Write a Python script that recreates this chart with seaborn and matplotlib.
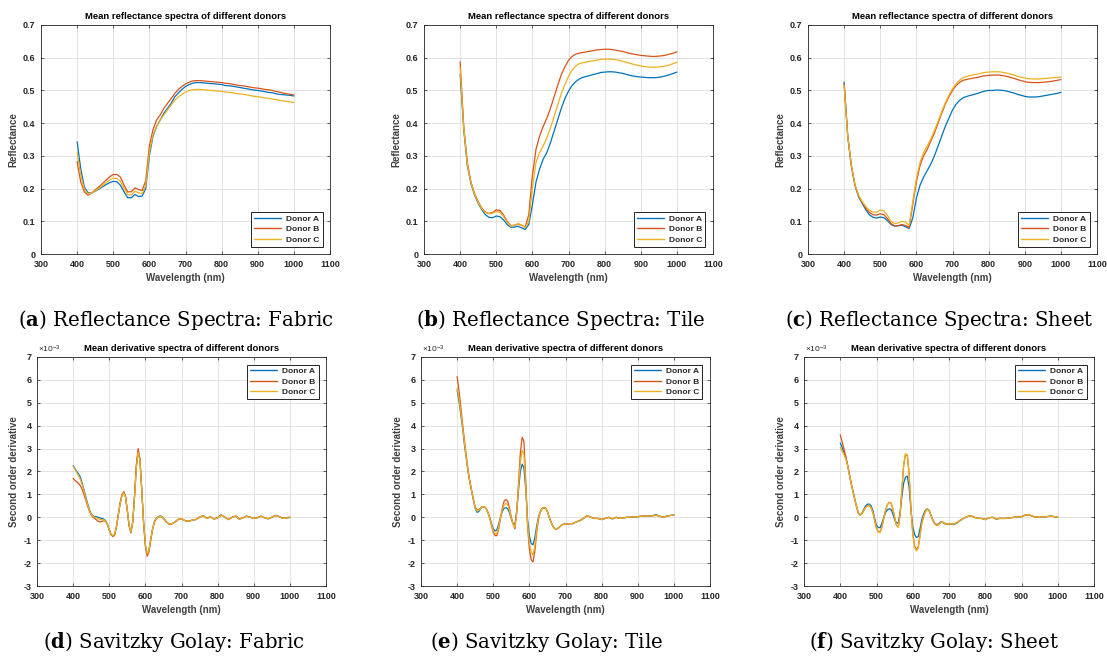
import matplotlib
matplotlib.use("Agg")
import numpy as np
import pandas as pd
import matplotlib.pyplot as plt
import seaborn as sns

sns.set_theme(style="whitegrid")
plt.rcParams['font.family'] = ['Liberation Sans', 'DejaVu Sans']
plt.rcParams['axes.unicode_minus'] = False
plt.rcParams['mathtext.fontset'] = 'custom'
plt.rcParams['mathtext.rm'] = 'DejaVu Serif'
plt.rcParams['mathtext.bf'] = 'DejaVu Serif:bold'
plt.rcParams['mathtext.sf'] = 'Liberation Sans'

# ---------------- data ----------------
WL_R = list(range(400, 1001, 10))                                # reflectance grid (nm)
WL_D = list(range(400, 701, 5)) + list(range(710, 1001, 10))     # derivative grid (nm)
DONORS = ["Donor A", "Donor B", "Donor C"]
COLORS = ["#0072BD", "#D95319", "#EDB120"]

# Reflectance: Fabric
fabric_A = [0.343, 0.260, 0.205, 0.187, 0.186, 0.192, 0.198, 0.205, 0.212, 0.218,
            0.222, 0.221, 0.210, 0.190, 0.172, 0.172, 0.182, 0.176, 0.177, 0.200,
            0.300, 0.360, 0.390, 0.410, 0.430, 0.445, 0.460, 0.480, 0.492, 0.503,
            0.512, 0.518, 0.522, 0.524, 0.524, 0.523, 0.522, 0.521, 0.520, 0.519,
            0.518, 0.515, 0.514, 0.513, 0.511, 0.509, 0.507, 0.505, 0.503, 0.501,
            0.500, 0.498, 0.496, 0.494, 0.493, 0.490, 0.488, 0.487, 0.486, 0.485,
            0.483]
fabric_B = [0.283, 0.220, 0.190, 0.180, 0.186, 0.196, 0.205, 0.215, 0.226, 0.236,
            0.243, 0.243, 0.235, 0.210, 0.190, 0.190, 0.202, 0.197, 0.194, 0.225,
            0.330, 0.380, 0.410, 0.425, 0.445, 0.460, 0.475, 0.490, 0.503, 0.512,
            0.520, 0.525, 0.529, 0.530, 0.530, 0.529, 0.528, 0.527, 0.526, 0.525,
            0.524, 0.522, 0.521, 0.519, 0.517, 0.515, 0.514, 0.512, 0.510, 0.508,
            0.507, 0.505, 0.503, 0.502, 0.500, 0.497, 0.495, 0.492, 0.490, 0.488,
            0.486]
fabric_C = [0.310, 0.240, 0.198, 0.184, 0.186, 0.193, 0.200, 0.209, 0.218, 0.226,
            0.232, 0.231, 0.222, 0.200, 0.182, 0.180, 0.192, 0.187, 0.185, 0.210,
            0.310, 0.365, 0.390, 0.410, 0.425, 0.440, 0.455, 0.470, 0.480, 0.488,
            0.495, 0.500, 0.502, 0.503, 0.503, 0.502, 0.501, 0.500, 0.499, 0.498,
            0.497, 0.495, 0.494, 0.493, 0.491, 0.489, 0.488, 0.486, 0.484, 0.482,
            0.481, 0.479, 0.477, 0.476, 0.474, 0.472, 0.470, 0.468, 0.466, 0.465,
            0.463]

# Reflectance: Tile
tile_A = [0.550, 0.380, 0.270, 0.215, 0.180, 0.155, 0.135, 0.120, 0.112, 0.111,
          0.116, 0.114, 0.105, 0.090, 0.082, 0.082, 0.085, 0.080, 0.075, 0.090,
          0.150, 0.220, 0.260, 0.290, 0.310, 0.340, 0.375, 0.410, 0.445, 0.475,
          0.498, 0.515, 0.527, 0.535, 0.540, 0.543, 0.546, 0.549, 0.552, 0.555,
          0.556, 0.557, 0.557, 0.556, 0.554, 0.552, 0.549, 0.546, 0.544, 0.542,
          0.541, 0.540, 0.539, 0.539, 0.539, 0.540, 0.542, 0.545, 0.548, 0.552,
          0.556]
tile_B = [0.588, 0.390, 0.280, 0.220, 0.185, 0.160, 0.140, 0.128, 0.124, 0.127,
          0.135, 0.133, 0.120, 0.100, 0.087, 0.087, 0.092, 0.088, 0.082, 0.120,
          0.240, 0.320, 0.360, 0.390, 0.415, 0.445, 0.480, 0.515, 0.548, 0.572,
          0.592, 0.604, 0.611, 0.614, 0.616, 0.618, 0.620, 0.622, 0.624, 0.625,
          0.626, 0.626, 0.625, 0.623, 0.621, 0.619, 0.616, 0.613, 0.611, 0.609,
          0.607, 0.606, 0.605, 0.604, 0.604, 0.605, 0.606, 0.608, 0.611, 0.614,
          0.618]
tile_C = [0.570, 0.385, 0.275, 0.218, 0.183, 0.158, 0.138, 0.127, 0.123, 0.125,
          0.130, 0.128, 0.116, 0.097, 0.086, 0.088, 0.093, 0.089, 0.080, 0.100,
          0.200, 0.280, 0.310, 0.330, 0.355, 0.385, 0.420, 0.455, 0.490, 0.518,
          0.543, 0.562, 0.575, 0.582, 0.585, 0.587, 0.589, 0.591, 0.593, 0.595,
          0.596, 0.596, 0.595, 0.594, 0.592, 0.589, 0.586, 0.583, 0.580, 0.577,
          0.575, 0.573, 0.572, 0.571, 0.571, 0.572, 0.573, 0.575, 0.578, 0.582,
          0.586]

# Reflectance: Sheet
sheet_A = [0.525, 0.360, 0.270, 0.210, 0.175, 0.155, 0.135, 0.120, 0.112, 0.110,
           0.113, 0.111, 0.102, 0.090, 0.085, 0.086, 0.088, 0.083, 0.078, 0.110,
           0.170, 0.210, 0.235, 0.255, 0.275, 0.300, 0.330, 0.360, 0.390, 0.415,
           0.440, 0.458, 0.470, 0.478, 0.482, 0.485, 0.488, 0.491, 0.495, 0.498,
           0.500, 0.500, 0.501, 0.501, 0.500, 0.498, 0.495, 0.492, 0.488, 0.485,
           0.482, 0.480, 0.480, 0.480, 0.481, 0.483, 0.485, 0.487, 0.489, 0.491,
           0.494]
sheet_B = [0.520, 0.360, 0.270, 0.210, 0.178, 0.158, 0.140, 0.127, 0.120, 0.119,
           0.123, 0.120, 0.108, 0.093, 0.086, 0.087, 0.090, 0.087, 0.082, 0.150,
           0.220, 0.270, 0.300, 0.320, 0.345, 0.370, 0.400, 0.430, 0.458, 0.480,
           0.500, 0.515, 0.525, 0.531, 0.534, 0.536, 0.538, 0.540, 0.543, 0.545,
           0.546, 0.547, 0.547, 0.547, 0.545, 0.543, 0.540, 0.537, 0.533, 0.530,
           0.527, 0.525, 0.524, 0.524, 0.524, 0.525, 0.526, 0.527, 0.529, 0.531,
           0.533]
sheet_C = [0.515, 0.360, 0.272, 0.213, 0.180, 0.160, 0.145, 0.133, 0.128, 0.128,
           0.134, 0.132, 0.118, 0.100, 0.093, 0.095, 0.100, 0.097, 0.088, 0.160,
           0.230, 0.280, 0.310, 0.330, 0.352, 0.378, 0.405, 0.435, 0.462, 0.485,
           0.505, 0.520, 0.532, 0.539, 0.543, 0.546, 0.548, 0.550, 0.553, 0.555,
           0.556, 0.557, 0.557, 0.557, 0.555, 0.553, 0.550, 0.547, 0.543, 0.540,
           0.538, 0.536, 0.535, 0.535, 0.535, 0.536, 0.537, 0.538, 0.539, 0.540,
           0.541]

# Second-order derivative (units of 1e-3): Fabric
dfab_A = [2.25, 2.12, 2.00, 1.90, 1.75, 1.50, 1.20, 0.90, 0.60, 0.35,
          0.15, 0.06, 0.03, 0.02, 0.00, -0.03, -0.05, -0.08, -0.15, -0.30,
          -0.55, -0.75, -0.82, -0.75, -0.40, 0.10, 0.60, 0.95, 1.10, 0.90,
          0.30, -0.35, -0.65, -0.20, 0.90, 2.20, 2.90, 2.50, 1.20, -0.20,
          -1.20, -1.62, -1.45, -0.95, -0.50, -0.20, -0.05, 0.02, 0.06, 0.04,
          -0.03, -0.13, -0.22, -0.28, -0.30, -0.27, -0.22, -0.16, -0.10, -0.06,
          -0.06,
          -0.15, -0.18, -0.12, -0.10, 0.00, 0.07, -0.05, 0.02, -0.08, -0.02,
          0.10, 0.00, -0.10, 0.00, 0.05, -0.08, -0.03, 0.05, 0.00, -0.05,
          -0.02, 0.05, -0.02, -0.07, 0.00, 0.08, 0.03, -0.05, -0.03, -0.01]
dfab_B = [1.70, 1.62, 1.55, 1.48, 1.38, 1.22, 1.00, 0.75, 0.50, 0.28,
          0.10, 0.00, -0.05, -0.12, -0.18, -0.20, -0.18, -0.15, -0.18, -0.32,
          -0.55, -0.76, -0.84, -0.76, -0.42, 0.10, 0.62, 0.98, 1.12, 0.92,
          0.30, -0.38, -0.68, -0.20, 0.95, 2.30, 3.00, 2.55, 1.20, -0.25,
          -1.25, -1.70, -1.50, -0.98, -0.52, -0.22, -0.07, 0.00, 0.03, 0.02,
          -0.05, -0.15, -0.23, -0.30, -0.31, -0.28, -0.23, -0.17, -0.11, -0.07,
          -0.07,
          -0.14, -0.17, -0.12, -0.09, 0.01, 0.06, -0.04, 0.02, -0.07, -0.01,
          0.10, 0.01, -0.09, 0.00, 0.06, -0.07, -0.02, 0.05, 0.01, -0.05,
          -0.01, 0.05, -0.02, -0.06, 0.00, 0.08, 0.04, -0.04, -0.02, 0.01]
dfab_C = [2.22, 2.10, 1.95, 1.82, 1.65, 1.42, 1.15, 0.85, 0.55, 0.32,
          0.13, 0.04, 0.00, -0.03, -0.07, -0.10, -0.10, -0.12, -0.17, -0.30,
          -0.55, -0.74, -0.80, -0.74, -0.40, 0.10, 0.58, 0.93, 1.07, 0.88,
          0.30, -0.34, -0.63, -0.20, 0.88, 2.15, 2.85, 2.45, 1.18, -0.20,
          -1.18, -1.60, -1.43, -0.94, -0.50, -0.20, -0.06, 0.01, 0.04, 0.03,
          -0.04, -0.14, -0.22, -0.28, -0.30, -0.27, -0.22, -0.16, -0.10, -0.06,
          -0.06,
          -0.15, -0.17, -0.12, -0.10, 0.00, 0.07, -0.05, 0.02, -0.08, -0.02,
          0.09, 0.00, -0.10, 0.00, 0.05, -0.08, -0.03, 0.05, 0.00, -0.05,
          -0.02, 0.05, -0.02, -0.07, 0.00, 0.07, 0.03, -0.05, -0.03, -0.01]

# Second-order derivative (units of 1e-3): Tile
dtile_A = [5.55, 5.10, 4.50, 3.90, 3.20, 2.60, 2.00, 1.55, 1.15, 0.75,
           0.40, 0.22, 0.25, 0.38, 0.45, 0.45, 0.38, 0.22, 0.00, -0.25,
           -0.50, -0.60, -0.55, -0.30, 0.00, 0.25, 0.40, 0.42, 0.37, 0.20,
           -0.08, -0.28, -0.30, 0.30, 1.20, 2.00, 2.32, 2.15, 1.20, -0.10,
           -0.80, -1.15, -1.20, -0.90, -0.40, 0.00, 0.25, 0.38, 0.42, 0.40,
           0.25, 0.00, -0.20, -0.38, -0.48, -0.50, -0.47, -0.40, -0.33, -0.30,
           -0.30,
           -0.28, -0.28, -0.20, -0.15, -0.05, 0.07, 0.00, -0.05, -0.05, -0.10,
           -0.05, 0.00, -0.07, 0.00, -0.05, -0.03, 0.00, 0.00, 0.02, 0.02,
           0.05, 0.05, 0.05, 0.07, 0.12, 0.05, 0.00, 0.05, 0.08, 0.10]
dtile_B = [6.15, 5.55, 4.85, 4.10, 3.40, 2.72, 2.10, 1.60, 1.20, 0.80,
           0.45, 0.32, 0.32, 0.40, 0.46, 0.46, 0.40, 0.22, -0.02, -0.35,
           -0.65, -0.80, -0.80, -0.50, -0.05, 0.40, 0.70, 0.78, 0.70, 0.40,
           0.00, -0.30, -0.50, 0.20, 1.50, 2.80, 3.50, 3.30, 1.60, -0.40,
           -1.40, -1.85, -1.95, -1.50, -0.70, -0.10, 0.22, 0.38, 0.43, 0.40,
           0.25, 0.00, -0.22, -0.40, -0.50, -0.52, -0.48, -0.40, -0.33, -0.30,
           -0.30,
           -0.28, -0.27, -0.20, -0.14, -0.04, 0.07, 0.00, -0.04, -0.05, -0.09,
           -0.05, 0.00, -0.07, 0.00, -0.04, -0.03, 0.00, 0.01, 0.02, 0.03,
           0.05, 0.05, 0.05, 0.06, 0.09, 0.05, 0.01, 0.05, 0.08, 0.10]
dtile_C = [5.65, 5.20, 4.60, 4.00, 3.30, 2.65, 2.05, 1.57, 1.17, 0.77,
           0.42, 0.28, 0.30, 0.40, 0.46, 0.46, 0.39, 0.22, -0.01, -0.30,
           -0.58, -0.72, -0.70, -0.42, -0.02, 0.33, 0.55, 0.60, 0.55, 0.30,
           -0.04, -0.30, -0.45, 0.22, 1.30, 2.40, 2.92, 2.75, 1.40, -0.30,
           -1.10, -1.52, -1.65, -1.25, -0.55, -0.05, 0.24, 0.38, 0.42, 0.40,
           0.25, 0.00, -0.21, -0.39, -0.49, -0.51, -0.47, -0.40, -0.33, -0.30,
           -0.30,
           -0.28, -0.28, -0.20, -0.15, -0.05, 0.07, 0.00, -0.05, -0.05, -0.10,
           -0.05, 0.00, -0.07, 0.00, -0.05, -0.03, 0.00, 0.00, 0.02, 0.02,
           0.05, 0.05, 0.05, 0.06, 0.10, 0.05, 0.00, 0.05, 0.08, 0.10]

# Second-order derivative (units of 1e-3): Sheet
dsheet_A = [3.25, 3.05, 2.85, 2.60, 2.30, 1.90, 1.50, 1.15, 0.80, 0.48,
            0.20, 0.10, 0.18, 0.35, 0.50, 0.57, 0.58, 0.50, 0.30, -0.05,
            -0.35, -0.45, -0.45, -0.25, 0.00, 0.20, 0.33, 0.37, 0.35, 0.15,
            -0.10, -0.25, -0.25, 0.20, 0.90, 1.50, 1.75, 1.80, 1.30, 0.30,
            -0.40, -0.75, -0.88, -0.85, -0.50, -0.10, 0.15, 0.30, 0.37, 0.30,
            0.10, -0.10, -0.25, -0.32, -0.30, -0.22, -0.20, -0.25, -0.30, -0.30,
            -0.28,
            -0.32, -0.27, -0.15, -0.05, 0.03, 0.07, 0.00, -0.05, -0.05, -0.10,
            -0.02, 0.00, -0.08, -0.05, -0.05, -0.05, -0.02, 0.00, 0.02, 0.02,
            0.10, 0.12, 0.05, 0.00, 0.03, 0.00, 0.03, 0.05, 0.03, 0.00]
dsheet_B = [3.60, 3.30, 3.00, 2.68, 2.32, 1.90, 1.50, 1.12, 0.78, 0.45,
            0.18, 0.10, 0.16, 0.30, 0.43, 0.50, 0.52, 0.42, 0.20, -0.15,
            -0.48, -0.62, -0.63, -0.42, -0.05, 0.30, 0.55, 0.65, 0.62, 0.38,
            0.00, -0.35, -0.42, 0.10, 1.20, 2.30, 2.75, 2.70, 1.90, 0.40,
            -0.70, -1.25, -1.40, -1.30, -0.80, -0.25, 0.05, 0.25, 0.35, 0.30,
            0.10, -0.12, -0.27, -0.35, -0.33, -0.25, -0.20, -0.23, -0.28, -0.30,
            -0.28,
            -0.30, -0.25, -0.14, -0.05, 0.03, 0.07, 0.00, -0.04, -0.05, -0.09,
            -0.02, 0.00, -0.07, -0.04, -0.05, -0.04, -0.02, 0.00, 0.02, 0.03,
            0.09, 0.11, 0.05, 0.01, 0.03, 0.01, 0.03, 0.05, 0.03, 0.00]
dsheet_C = [3.05, 2.90, 2.75, 2.55, 2.28, 1.88, 1.48, 1.12, 0.78, 0.46,
            0.18, 0.10, 0.16, 0.30, 0.43, 0.50, 0.52, 0.42, 0.20, -0.15,
            -0.48, -0.64, -0.66, -0.44, -0.05, 0.30, 0.56, 0.66, 0.63, 0.38,
            0.00, -0.35, -0.44, 0.10, 1.20, 2.30, 2.78, 2.72, 1.90, 0.40,
            -0.72, -1.30, -1.47, -1.35, -0.82, -0.26, 0.05, 0.25, 0.35, 0.30,
            0.10, -0.12, -0.27, -0.35, -0.33, -0.25, -0.20, -0.23, -0.28, -0.30,
            -0.28,
            -0.30, -0.25, -0.14, -0.05, 0.03, 0.07, 0.00, -0.05, -0.05, -0.10,
            -0.02, 0.00, -0.08, -0.05, -0.05, -0.05, -0.02, 0.00, 0.02, 0.02,
            0.10, 0.12, 0.05, 0.00, 0.03, 0.00, 0.03, 0.05, 0.03, 0.00]

X_TICKS = [300, 400, 500, 600, 700, 800, 900, 1000, 1100]
R_TICKS = [0, 0.1, 0.2, 0.3, 0.4, 0.5, 0.6, 0.7]
R_TICKLABELS = ["0", "0.1", "0.2", "0.3", "0.4", "0.5", "0.6", "0.7"]
D_TICKS = [-3, -2, -1, 0, 1, 2, 3, 4, 5, 6, 7]

CAPTIONS = [
    ("a", "Reflectance Spectra: Fabric", 176, 326),
    ("b", "Reflectance Spectra: Tile", 561, 326),
    ("c", "Reflectance Spectra: Sheet", 939, 326),
    ("d", "Savitzky Golay: Fabric", 174, 648),
    ("e", "Savitzky Golay: Tile", 547, 648),
    ("f", "Savitzky Golay: Sheet", 934, 648),
]

# ---------------- figure ----------------
W, H = 1107, 664
fig = plt.figure(figsize=(W / 100, H / 100), dpi=100)
fig.patch.set_facecolor("white")

# axes boxes in pixels: left, top, right, bottom
BOXES = [(41, 25, 330, 254), (424, 25, 713, 254), (808, 25, 1097, 254),
         (37, 357, 326, 586), (421, 357, 710, 586), (804, 357, 1094, 586)]

PANELS = [
    (WL_R, [fabric_A, fabric_B, fabric_C], "refl"),
    (WL_R, [tile_A, tile_B, tile_C], "refl"),
    (WL_R, [sheet_A, sheet_B, sheet_C], "refl"),
    (WL_D, [dfab_A, dfab_B, dfab_C], "deriv"),
    (WL_D, [dtile_A, dtile_B, dtile_C], "deriv"),
    (WL_D, [dsheet_A, dsheet_B, dsheet_C], "deriv"),
]

TXT = "#262626"
LBL = "#404040"
for (l, t, r, b), (wl, series, kind) in zip(BOXES, PANELS):
    ax = fig.add_axes([l / W, 1 - b / H, (r - l) / W, (b - t) / H])
    data = {"Wavelength": wl}
    for name, s in zip(DONORS, series):
        data[name] = s
    df = pd.DataFrame(data).melt(id_vars="Wavelength", var_name="Donor", value_name="Value")
    sns.lineplot(data=df, x="Wavelength", y="Value", hue="Donor", hue_order=DONORS,
                 palette=COLORS, ax=ax, linewidth=0.9, estimator=None, sort=False)
    ax.set_facecolor("white")
    ax.set_xlim(300, 1100)
    ax.set_xticks(X_TICKS)
    if kind == "refl":
        ax.set_ylim(0, 0.7)
        ax.set_yticks(R_TICKS)
        ax.set_yticklabels(R_TICKLABELS)
        ax.set_ylabel("Reflectance", fontsize=7, fontweight="bold", color=LBL, labelpad=3)
        ax.set_title("Mean reflectance spectra of different donors", fontsize=6.8,
                     fontweight="bold", color="black", pad=4)
        loc = "lower right"
    else:
        ax.set_ylim(-3, 7)
        ax.set_yticks(D_TICKS)
        ax.set_ylabel("Second order derivative", fontsize=7, fontweight="bold",
                      color=LBL, labelpad=3)
        ax.set_title("Mean derivative spectra of different donors", fontsize=6.8,
                     fontweight="bold", color="black", pad=4)
        ax.text(0.003, 1.008, r"$\mathsf{\times 10^{-3}}$", transform=ax.transAxes,
                ha="left", va="bottom", fontsize=6, color=TXT)
        loc = "upper right"
    ax.set_xlabel("Wavelength (nm)", fontsize=7, fontweight="bold", color=LBL, labelpad=3)
    ax.grid(True, color="#dedede", linewidth=0.6)
    for sp in ax.spines.values():
        sp.set_color("#262626")
        sp.set_linewidth(0.6)
        sp.set_visible(True)
    ax.tick_params(axis="both", which="major", direction="in", length=2.5, width=0.5,
                   colors=TXT, labelsize=6.5, top=True, right=True, pad=4,
                   bottom=True, left=True)
    for lab in ax.get_xticklabels() + ax.get_yticklabels():
        lab.set_fontweight("bold")
    leg = ax.legend(loc=loc, fontsize=6, frameon=True, fancybox=False,
                    handlelength=3.3, borderaxespad=0.9, labelspacing=0.3,
                    borderpad=0.35, handletextpad=0.6)
    leg.get_frame().set_edgecolor("black")
    leg.get_frame().set_linewidth(0.6)
    leg.get_frame().set_alpha(1)
    for txt in leg.get_texts():
        txt.set_fontweight("bold")
        txt.set_color(TXT)
    for line in leg.get_lines():
        line.set_linewidth(1.0)

for letter, text, cx, cy in CAPTIONS:
    fig.text(cx / W, 1 - cy / H, "(" + r"$\mathbf{" + letter + "}$" + ") " + text,
             ha="center", va="baseline", fontsize=14.2, family="DejaVu Serif",
             color="black")

fig.savefig("out.png", dpi=100, facecolor="white")
